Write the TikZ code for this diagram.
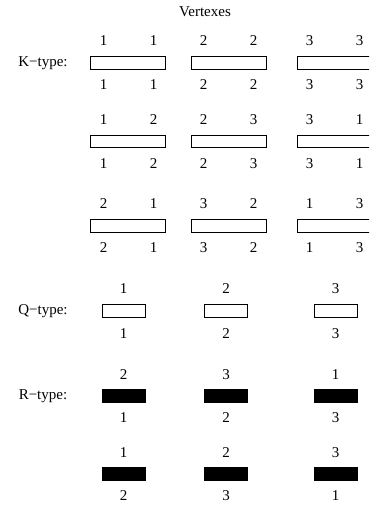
\documentclass[tikz,border=0pt]{standalone}
\usepackage{fontspec}
\setmainfont{Liberation Serif}
\usetikzlibrary{positioning}

\tikzset{
  num/.style={inner sep=0pt, font=\fontsize{15bp}{18bp}\selectfont},
  kbox/.style={draw, line width=0.8bp, minimum width=75bp, minimum height=12.5bp, inner sep=0pt},
  qbox/.style={draw, line width=0.8bp, minimum width=43bp, minimum height=12.5bp, inner sep=0pt},
  rbox/.style={draw, fill=black, line width=0.8bp, minimum width=43bp, minimum height=13.5bp, inner sep=0pt}
}

\begin{document}
\begin{tikzpicture}[x=1bp,y=-1bp]
    \useasboundingbox (0,0) rectangle (369,508);
    \clip (0,0) rectangle (369,508);

    % Heading and row labels
    \node[num] (title) at (205,12) {Vertexes};
    \node[num] (ktype) at (43,63) {K−type:};
    \node[num] (qtype) at (43,311) {Q−type:};
    \node[num] (rtype) at (43,396) {R−type:};

    % K-type, first row
    \node[kbox] (k11) at (128,63) {};
    \node[kbox] (k12) at (228.5,63) {};
    \node[kbox] (k13) at (334.5,63) {};
    \node[num] (k11a) at (103.5,41) {1}; \node[num] (k11b) at (153.5,41) {1};
    \node[num] (k12a) at (203.5,41) {2}; \node[num] (k12b) at (253.5,41) {2};
    \node[num] (k13a) at (309.5,41) {3}; \node[num] (k13b) at (359.5,41) {3};
    \node[num] (k11c) at (103.5,85) {1}; \node[num] (k11d) at (153.5,85) {1};
    \node[num] (k12c) at (203.5,85) {2}; \node[num] (k12d) at (253.5,85) {2};
    \node[num] (k13c) at (309.5,85) {3}; \node[num] (k13d) at (359.5,85) {3};

    % K-type, second row
    \node[kbox] (k21) at (128,141.5) {};
    \node[kbox] (k22) at (228.5,141.5) {};
    \node[kbox] (k23) at (334.5,141.5) {};
    \node[num] (k21a) at (103.5,119.5) {1}; \node[num] (k21b) at (153.5,119.5) {2};
    \node[num] (k22a) at (203.5,119.5) {2}; \node[num] (k22b) at (253.5,119.5) {3};
    \node[num] (k23a) at (309.5,119.5) {3}; \node[num] (k23b) at (359.5,119.5) {1};
    \node[num] (k21c) at (103.5,163.5) {1}; \node[num] (k21d) at (153.5,163.5) {2};
    \node[num] (k22c) at (203.5,163.5) {2}; \node[num] (k22d) at (253.5,163.5) {3};
    \node[num] (k23c) at (309.5,163.5) {3}; \node[num] (k23d) at (359.5,163.5) {1};

    % K-type, third row
    \node[kbox] (k31) at (128,226) {};
    \node[kbox] (k32) at (228.5,226) {};
    \node[kbox] (k33) at (334.5,226) {};
    \node[num] (k31a) at (103.5,204) {2}; \node[num] (k31b) at (153.5,204) {1};
    \node[num] (k32a) at (203.5,204) {3}; \node[num] (k32b) at (253.5,204) {2};
    \node[num] (k33a) at (309.5,204) {1}; \node[num] (k33b) at (359.5,204) {3};
    \node[num] (k31c) at (103.5,248) {2}; \node[num] (k31d) at (153.5,248) {1};
    \node[num] (k32c) at (203.5,248) {3}; \node[num] (k32d) at (253.5,248) {2};
    \node[num] (k33c) at (309.5,248) {1}; \node[num] (k33d) at (359.5,248) {3};

    % Q-type
    \node[qbox] (q1) at (123.5,311) {};
    \node[qbox] (q2) at (226,311) {};
    \node[qbox] (q3) at (335.5,311) {};
    \node[num, above=11bp of q1] (q1a) {1};
    \node[num, above=11bp of q2] (q2a) {2};
    \node[num, above=11bp of q3] (q3a) {3};
    \node[num, below=11bp of q1] (q1b) {1};
    \node[num, below=11bp of q2] (q2b) {2};
    \node[num, below=11bp of q3] (q3b) {3};

    % R-type
    \node[rbox] (r11) at (123.5,396) {};
    \node[rbox] (r12) at (226,396) {};
    \node[rbox] (r13) at (335.5,396) {};
    \node[num, above=9bp of r11] (r11a) {2};
    \node[num, above=9bp of r12] (r12a) {3};
    \node[num, above=9bp of r13] (r13a) {1};
    \node[num, below=9bp of r11] (r11b) {1};
    \node[num, below=9bp of r12] (r12b) {2};
    \node[num, below=9bp of r13] (r13b) {3};

    \node[rbox] (r21) at (123.5,474) {};
    \node[rbox] (r22) at (226,474) {};
    \node[rbox] (r23) at (335.5,474) {};
    \node[num, above=9bp of r21] (r21a) {1};
    \node[num, above=9bp of r22] (r22a) {2};
    \node[num, above=9bp of r23] (r23a) {3};
    \node[num, below=9bp of r21] (r21b) {2};
    \node[num, below=9bp of r22] (r22b) {3};
    \node[num, below=9bp of r23] (r23b) {1};
\end{tikzpicture}
\end{document}
